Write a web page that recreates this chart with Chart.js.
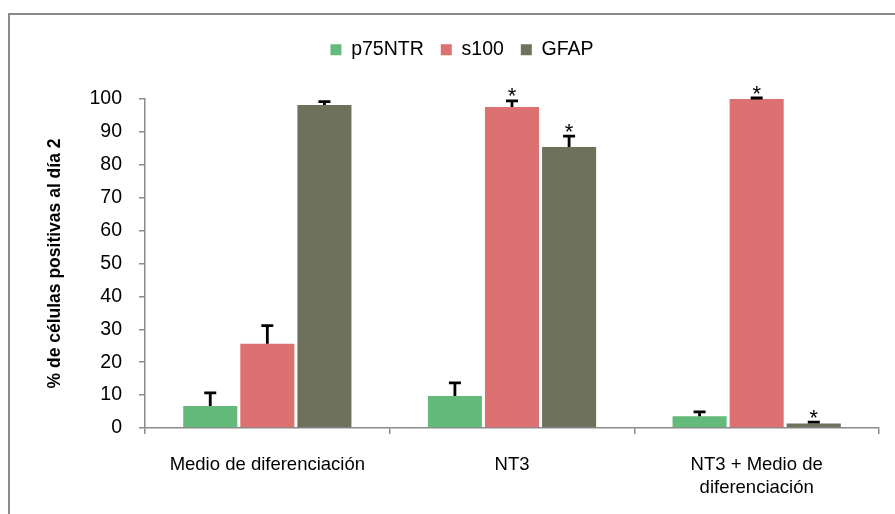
<!DOCTYPE html>
<html>
<head>
<meta charset="utf-8">
<script src="https://cdn.jsdelivr.net/npm/chart.js@4"></script>
<style>
  html, body { margin: 0; padding: 0; background: #fff; }
  #wrap { width: 895px; height: 514px; }
</style>
</head>
<body>
<div id="wrap"><canvas id="chart" width="895" height="514"></canvas></div>
<script>
// values
const categories = ["Medio de diferenciación", "NT3", ["NT3 + Medio de", "diferenciación"]];
const seriesNames = ["p75NTR", "s100", "GFAP"];
const p75ntr = [6.7, 9.7, 3.6];
const s100 = [25.6, 97.6, 100];
const gfap = [98.2, 85.4, 1.4];
// upper error (SD) of each bar
const p75ntrErr = [4.0, 4.0, 1.3];
const s100Err = [5.5, 1.8, 0.3];
const gfapErr = [1.0, 3.3, 0.4];
// bars marked with *
const p75ntrSig = [false, false, false];
const s100Sig = [false, true, true];
const gfapSig = [false, true, true];
const yTicks = [0, 10, 20, 30, 40, 50, 60, 70, 80, 90, 100];

const errors = [p75ntrErr, s100Err, gfapErr];
const marks = [p75ntrSig, s100Sig, gfapSig];
const axisGray = '#8a8a8a';
const font = '"Liberation Sans", Arial, sans-serif';

// grow the legend box so the plot starts lower
const legendSpace = {
  id: 'legendSpace',
  beforeInit(chart) {
    const fit = chart.legend.fit;
    chart.legend.fit = function () {
      fit.call(this);
      this.height += 29.5;
    };
  }
};

// error bars and asterisks
const errorBars = {
  id: 'errorBars',
  afterDatasetsDraw(chart) {
    const ctx = chart.ctx;
    const y = chart.scales.y;
    ctx.save();
    ctx.strokeStyle = '#000';
    ctx.fillStyle = '#000';
    chart.data.datasets.forEach((ds, i) => {
      chart.getDatasetMeta(i).data.forEach((bar, j) => {
        const top = y.getPixelForValue(ds.data[j] + errors[i][j]);
        ctx.lineWidth = 2.8;
        ctx.beginPath();
        ctx.moveTo(bar.x, bar.y);
        ctx.lineTo(bar.x, top);
        ctx.moveTo(bar.x - 6, top);
        ctx.lineTo(bar.x + 6, top);
        ctx.stroke();
        if (marks[i][j]) {
          ctx.font = '22px ' + font;
          ctx.textAlign = 'center';
          ctx.textBaseline = 'alphabetic';
          ctx.fillText('*', bar.x, top + 2.5);
        }
      });
    });
    ctx.restore();
  }
};

// the grey frame round the picture
const frame = {
  id: 'frame',
  afterDraw(chart) {
    const ctx = chart.ctx;
    ctx.save();
    ctx.strokeStyle = axisGray;
    ctx.lineWidth = 2;
    ctx.beginPath();
    ctx.moveTo(9, 514);
    ctx.lineTo(9, 14);
    ctx.lineTo(895, 14);
    ctx.stroke();
    ctx.restore();
  }
};

const colors = ['rgb(99, 186, 122)', 'rgb(221, 112, 112)', 'rgb(110, 114, 92)'];

new Chart(document.getElementById('chart'), {
  type: 'bar',
  data: {
    labels: categories,
    datasets: [p75ntr, s100, gfap].map((d, i) => ({
      label: seriesNames[i],
      data: d,
      backgroundColor: colors[i],
      borderWidth: 0,
      categoryPercentage: 0.70,
      barPercentage: 0.947
    }))
  },
  options: {
    responsive: false,
    animation: false,
    layout: { padding: { left: 45, right: 16, top: 23, bottom: 0 } },
    plugins: {
      tooltip: { enabled: false },
      legend: {
        position: 'top',
        labels: {
          boxWidth: 11,
          boxHeight: 11,
          padding: 17,
          color: '#000',
          font: { family: font, size: 19.5 }
        }
      }
    },
    scales: {
      x: {
        afterFit(scale) { scale.height = 86; },
        grid: { drawOnChartArea: false, tickLength: 6, color: axisGray, lineWidth: 1.5, offset: true },
        border: { color: axisGray, width: 1.5 },
        ticks: { color: '#000', padding: 19, maxRotation: 0, font: { family: font, size: 18.5, lineHeight: 1.25 } }
      },
      y: {
        min: yTicks[0],
        max: yTicks[yTicks.length - 1],
        afterFit(scale) { scale.width = 100; },
        afterBuildTicks(scale) { scale.ticks = yTicks.map(v => ({ value: v })); },
        grid: { drawOnChartArea: false, tickLength: 6, color: axisGray, lineWidth: 1.5 },
        border: { color: axisGray, width: 1.5 },
        ticks: { color: '#000', padding: 17, font: { family: font, size: 19.5 } },
        title: {
          display: true,
          text: '% de células positivas al día 2',
          color: '#000',
          padding: { top: 0, bottom: 0 },
          font: { family: font, size: 17.5, weight: 'bold' }
        }
      }
    }
  },
  plugins: [legendSpace, errorBars, frame]
});
</script>
</body>
</html>
